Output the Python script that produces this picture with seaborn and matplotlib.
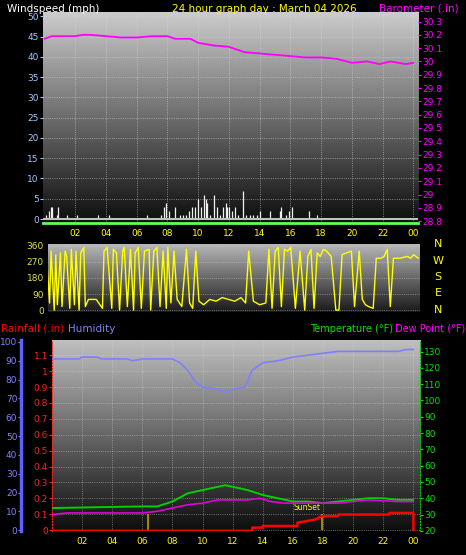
import matplotlib
matplotlib.use("Agg")
import matplotlib.pyplot as plt
import numpy as np
import seaborn as sns

sns.set_style("dark")
plt.rcParams['font.family'] = ['DejaVu Sans']

# ---- data (hours since midnight) ----
baro_t = [0, 0.5, 2, 2.5, 3, 4, 5, 6, 7, 8, 8.5, 9.5, 10, 11, 12, 13, 14, 15, 16, 17, 18, 19, 20, 21, 21.8, 22.5, 23.5, 24]
baro_v = [30.17, 30.19, 30.19, 30.20, 30.20, 30.19, 30.18, 30.18, 30.19, 30.19, 30.17, 30.17, 30.14, 30.12, 30.11,
          30.07, 30.06, 30.05, 30.04, 30.03, 30.03, 30.02, 29.99, 30.00, 29.98, 30.00, 29.98, 29.99]

wind_t = [0.1, 0.3, 0.4, 0.5, 0.8, 0.9, 1.5, 2.1, 3.5, 4.2, 6.7, 7.6, 7.8, 7.9, 8.1, 8.5, 8.8, 9.0, 9.2, 9.4, 9.6, 9.8,
          10.0, 10.2, 10.4, 10.5, 10.6, 10.8, 11.0, 11.2, 11.4, 11.6, 11.8, 11.9, 12.0, 12.2, 12.4, 12.6, 12.9, 13.1,
          13.4, 13.6, 13.8, 14.0, 14.7, 15.3, 15.4, 15.7, 15.9, 16.1, 17.2, 17.7]
wind_v = [1, 2, 3, 3, 1, 3, 1, 1, 1, 1, 1, 1, 3, 4, 2, 3, 1, 1, 1, 2, 3, 3, 5, 3, 6, 5, 4, 1, 6, 3, 1, 3, 4, 3, 3, 2, 3,
          1, 7, 1, 1, 1, 1, 2, 2, 2, 3, 1, 2, 3, 2, 1]

dir_t = [0.1, 0.3, 0.5, 0.6, 0.8, 0.9, 1.0, 1.2, 1.3, 1.5, 1.6, 1.8, 1.9, 2.1, 2.2, 2.4, 2.5, 2.7, 2.8, 3.0, 3.5, 3.9,
         4.0, 4.2, 4.5, 4.6, 4.8, 5.0, 5.2, 5.3, 5.5, 5.7, 5.9, 6.0, 6.2, 6.4, 6.6, 6.9, 7.0, 7.2, 7.4, 7.6, 7.8,
         8.0, 8.1, 8.3, 8.5, 8.7, 9.0, 9.3, 9.5, 9.7, 9.9, 10.1, 10.4, 10.8, 11.2, 11.6, 12.0, 12.4, 12.8, 13.1,
         13.3, 13.6, 14.0, 14.4, 14.6, 14.8, 15.0, 15.2, 15.4, 15.6, 15.8, 16.0, 16.3, 16.6, 16.9, 17.1, 17.3,
         17.5, 17.7, 17.9, 18.1, 18.3, 18.6, 18.9, 19.1, 19.3, 19.6, 19.9, 20.1, 20.4, 20.6, 20.8, 21.0, 21.3,
         21.5, 21.8, 22.0, 22.2, 22.4, 22.6, 23.0, 23.5, 23.7, 23.9, 24.2]
dir_v = [300, 320, 40, 330, 0, 310, 30, 320, 20, 330, 300, 10, 340, 30, 330, 0, 320, 350, 20, 60, 60, 10, 330,
         350, 10, 340, 320, 0, 330, 350, 20, 340, 0, 320, 350, 10, 330, 340, 0, 330, 350, 20, 330, 10, 350, 40,
         330, 60, 20, 340, 40, 10, 330, 50, 30, 60, 50, 70, 60, 50, 70, 40, 330, 50, 30, 40, 340, 10, 330, 350,
         20, 340, 330, 350, 10, 330, 0, 300, 340, 10, 320, 300, 340, 330, 300, 0, 0, 310, 320, 330, 20, 330, 60,
         30, 20, 10, 290, 290, 300, 340, 20, 290, 290, 300, 290, 310, 290]

hum_t = [0, 1.8, 2, 3, 3.3, 5, 5.3, 6, 8, 8.5, 9, 9.5, 10, 11, 11.5, 12, 12.8, 13.3, 14, 15, 16, 17, 18, 19, 23, 23.5, 24]
hum_v = [91, 91, 92, 92, 91, 91, 90, 91, 91, 89, 85, 79, 76, 75, 73, 75, 76, 85, 89, 90, 92, 93, 94, 95, 95, 96, 96]

temp_t = [0, 6, 7, 8, 9, 10, 11, 11.5, 12, 13, 14, 15, 16, 17, 18, 19, 20, 21, 22, 23, 24]
temp_v = [34, 35, 35, 38, 43, 45, 47, 48, 47, 45, 42, 40, 38, 38, 37, 38, 39, 40, 40, 39, 39]

dew_t = [0, 1, 6, 7, 8, 9, 10, 11, 12, 13, 13.8, 14.5, 15.5, 17, 18, 19, 20, 21, 23, 24]
dew_v = [30, 31, 31, 32, 34, 36, 37, 39, 39, 39, 40, 38, 37, 37, 37, 37, 38, 39, 38, 38]

rain_t = [0, 13.3, 13.3, 14.0, 14.0, 16.3, 16.3, 17.5, 17.9, 18.0, 19.0, 19.0, 22.4, 22.4, 24.0, 24.0]
rain_v = [0, 0, 0.02, 0.02, 0.03, 0.03, 0.05, 0.07, 0.09, 0.09, 0.09, 0.10, 0.10, 0.11, 0.11, 0.0]

sun_t = [6.4, 17.9]

hour_ticks = [2, 4, 6, 8, 10, 12, 14, 16, 18, 20, 22, 24]
hour_labels = ['02', '04', '06', '08', '10', '12', '14', '16', '18', '20', '22', '00']

YEL = '#ffff00'
GRIDC = '#d8d8d8'


def backdrop(ax, top, bottom):
    grad = np.linspace(1, 0, 256).reshape(-1, 1)
    cols = np.array(bottom) + grad * (np.array(top) - np.array(bottom))
    img = np.repeat(cols[:, None, :], 2, axis=1)
    ax.imshow(img, extent=[0, 1, 0, 1], transform=ax.transAxes, aspect='auto', zorder=0)
    ax.set_facecolor('black')


def style(ax, color):
    ax.tick_params(axis='y', colors=color, labelsize=6.5, length=2, pad=1)
    for s in ax.spines.values():
        s.set_visible(False)


def line(x, y, ax, color, lw):
    # raw points, no aggregation of repeated x values
    sns.lineplot(x=x, y=y, ax=ax, color=color, lw=lw, estimator=None, sort=False, zorder=4)


fig = plt.figure(figsize=(4.66, 5.55), dpi=100, facecolor='black')

# ---- top panel: windspeed + barometer ----
ax1 = fig.add_axes([0.092, 0.598, 0.805, 0.38])
backdrop(ax1, (0.80, 0.80, 0.80), (0.05, 0.05, 0.05))
ax1.vlines(wind_t, 0, wind_v, color='#f0f0f0', lw=0.9, zorder=3)
ax1.axhline(0, color='#c0c0c0', lw=1.5, zorder=3)
ax1.set_xlim(-0.1, 24.3)
ax1.set_ylim(-1, 51)
ax1.set_yticks(range(0, 51, 5))
ax1.set_xticks(hour_ticks)
ax1.set_xticklabels(hour_labels)
ax1.tick_params(axis='x', colors=YEL, labelsize=6.5, length=0, pad=4)
style(ax1, '#a0c8ff')
ax1.grid(color=GRIDC, ls=':', lw=0.6, alpha=0.7)
ax1.spines['bottom'].set_visible(True)
ax1.spines['bottom'].set_color('#60ff60')
ax1.spines['bottom'].set_linewidth(2)
ax1b = ax1.twinx()
line(baro_t, baro_v, ax1b, '#ff00ff', 1.3)
ax1b.set_ylim(28.785, 30.37)
bt = np.round(np.arange(28.8, 30.31, 0.1), 1)
ax1b.set_yticks(bt)
ax1b.set_yticklabels([f'{v:g}' for v in bt])
style(ax1b, '#ff00ff')
ax1b.grid(False)
fig.text(0.015, 0.993, 'Windspeed (mph)', color='white', fontsize=7.5, va='top')
fig.text(0.37, 0.993, '24 hour graph day : March 04 2026', color=YEL, fontsize=7.5, va='top')
fig.text(0.985, 0.993, 'Barometer (.in)', color='#ff00ff', fontsize=7.5, va='top', ha='right')

# ---- middle panel: wind direction ----
ax2 = fig.add_axes([0.103, 0.438, 0.798, 0.1225])
backdrop(ax2, (0.72, 0.72, 0.72), (0.10, 0.10, 0.10))
line(dir_t, dir_v, ax2, YEL, 1.0)
ax2.set_xlim(0.4, 24.3)
ax2.set_ylim(-10, 370)
ax2.set_yticks([0, 90, 180, 270, 360])
ax2.set_xticks([])
style(ax2, '#e0e040')
ax2.grid(color=GRIDC, ls=':', lw=0.6, alpha=0.6)
for i, c in enumerate('NWSEN'):
    fig.text(0.94, 0.56 - i * 0.0295, c, color=YEL, fontsize=8, ha='center', va='center')

# ---- bottom panel: rain, humidity, temperature, dew point ----
ax3 = fig.add_axes([0.1116, 0.0432, 0.79, 0.344])
backdrop(ax3, (0.75, 0.75, 0.75), (0.05, 0.05, 0.05))
ax3.set_xlim(0, 24.45)
ax3.set_ylim(-0.005, 1.195)
rt = np.round(np.arange(0, 1.11, 0.1), 1)
ax3.set_yticks(rt)
ax3.set_yticklabels([f'{v:g}' for v in rt])
ax3.set_xticks(hour_ticks)
ax3.set_xticklabels(hour_labels)
ax3.tick_params(axis='x', colors=YEL, labelsize=6.5, length=0, pad=4)
style(ax3, '#ff2020')
ax3.spines['left'].set_visible(True)
ax3.spines['left'].set_color('#ff2020')
ax3.spines['left'].set_linestyle(':')
ax3.grid(color=GRIDC, ls=':', lw=0.6, alpha=0.6)
ax3.vlines(sun_t, 0, 0.1, color='#c0a000', lw=1.2, zorder=3)
ax3.text(17.8, 0.115, 'SunSet', color=YEL, fontsize=5.5, ha='right', va='bottom', zorder=6)

axh = ax3.twinx()
axh.yaxis.tick_left()
line(hum_t, hum_v, axh, '#8080ff', 1.2)
axh.set_ylim(-0.4, 101)
axh.set_yticks(range(0, 101, 10))
style(axh, '#8080ff')
axh.spines['left'].set_position(('outward', 22))
axh.spines['left'].set_visible(True)
axh.spines['left'].set_color('#6060ff')
axh.spines['left'].set_linewidth(2.5)
axh.grid(False)

axt = ax3.twinx()
line(temp_t, temp_v, axt, '#00d000', 1.4)
line(dew_t, dew_v, axt, '#e000e0', 1.2)
# rainfall drawn on the temperature axis: 1 in = 100 units, same scale as the red axis
line(rain_t, [v * 100 + 20 for v in rain_v], axt, '#ff0000', 1.8)
axt.set_ylim(19.9, 137)
axt.set_yticks(range(20, 131, 10))
style(axt, '#00e000')
axt.spines['right'].set_visible(True)
axt.spines['right'].set_color('#00c000')
axt.spines['right'].set_linestyle(':')
axt.grid(False)

fig.text(0.002, 0.408, 'Rainfall (.in)', color='#ff0000', fontsize=7.5, va='center')
fig.text(0.145, 0.408, 'Humidity', color='#8080ff', fontsize=7.5, va='center')
fig.text(0.665, 0.408, 'Temperature (°F)', color='#00e000', fontsize=7, va='center')
fig.text(0.998, 0.408, 'Dew Point (°F)', color='#ff00ff', fontsize=7, va='center', ha='right')

fig.savefig('out.png', dpi=100, facecolor='black')
